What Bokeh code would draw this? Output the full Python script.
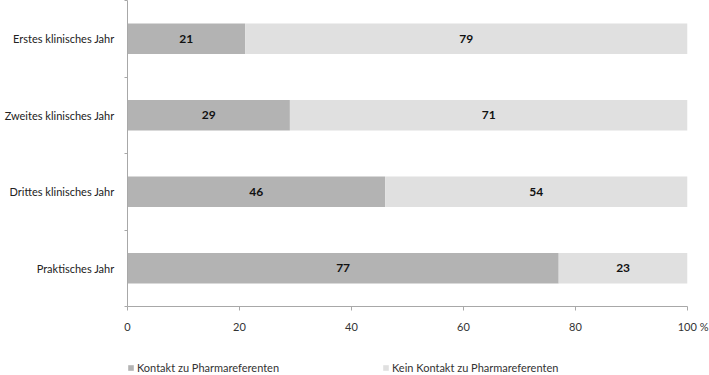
from bokeh.plotting import figure
from bokeh.layouts import column
from bokeh.models import ColumnDataSource, LabelSet, Legend, LegendItem, FixedTicker
from bokeh.core.properties import value
from bokeh.embed import file_html
from bokeh.resources import INLINE

categories = ["Erstes klinisches Jahr", "Zweites klinisches Jahr", "Drittes klinisches Jahr", "Praktisches Jahr"]
kontakt = [21, 29, 46, 77]
kein_kontakt = [79, 71, 54, 23]
series_names = ["Kontakt zu Pharmareferenten", "Kein Kontakt zu Pharmareferenten"]
x_ticks = [0, 20, 40, 60, 80, 100]
x_unit = "%"

FONT = "Lato"
C_K = "#b3b3b3"
C_NK = "#e0e0e0"
n = len(categories)
ypos = [n - i - 0.5 for i in range(n)]

src = ColumnDataSource(dict(
    cat=categories, y=ypos,
    zero=[0] * n,
    k_right=kontakt,
    nk_right=[a + b for a, b in zip(kontakt, kein_kontakt)],
    k_mid=[a / 2 for a in kontakt],
    nk_mid=[a + b / 2 for a, b in zip(kontakt, kein_kontakt)],
    k_txt=[str(v) for v in kontakt],
    nk_txt=[str(v) for v in kein_kontakt],
))

p = figure(width=709, height=335, x_range=(0, 100), y_range=(0, n),
           min_border_left=127, min_border_right=22, min_border_top=0, min_border_bottom=29,
           output_backend="svg", toolbar_location=None)
p.outline_line_color = None
p.xgrid.visible = False
p.ygrid.visible = False

p.hbar(y="y", left="zero", right="k_right", height=0.4, source=src,
       fill_color=C_K, line_color=None)
p.hbar(y="y", left="k_right", right="nk_right", height=0.4, source=src,
       fill_color=C_NK, line_color=None)

for xcol, tcol in (("k_mid", "k_txt"), ("nk_mid", "nk_txt")):
    p.add_layout(LabelSet(x=xcol, y="y", text=tcol, source=src,
                          text_align="center", text_baseline="middle",
                          text_font=value(FONT), text_font_style="bold",
                          text_font_size="12px", text_color="#111111"))

axis_color = "#a8a8a8"
xa = p.xaxis[0]
xa.ticker = FixedTicker(ticks=x_ticks)
xa.major_label_overrides = {100: "\u00a0\u00a0\u00a0\u00a0100 " + x_unit}
xa.axis_line_color = axis_color
xa.major_tick_line_color = axis_color
xa.major_tick_out = 4
xa.major_tick_in = 0
xa.minor_tick_line_color = None
xa.major_label_standoff = 9
xa.major_label_text_font = FONT
xa.major_label_text_font_size = "11px"
xa.major_label_text_color = "#333333"
xa.axis_label_standoff = 0

ya = p.yaxis[0]
ya.ticker = FixedTicker(ticks=ypos, minor_ticks=list(range(n + 1)))
ya.major_label_overrides = {y: c for y, c in zip(ypos, categories)}
ya.axis_line_color = axis_color
ya.major_tick_line_color = None
ya.major_tick_out = 0
ya.major_tick_in = 0
ya.minor_tick_line_color = axis_color
ya.minor_tick_out = 3
ya.minor_tick_in = 0
ya.major_label_standoff = 10
ya.major_label_text_font = FONT
ya.major_label_text_font_size = "11px"
ya.major_label_text_color = "#222222"
ya.axis_label_standoff = 0

# Legend strip below the chart (series swatches drawn off-view, used only by the legend)
lp = figure(width=709, height=40, x_range=(0, 100), y_range=(100, 101),
            min_border_left=0, min_border_right=0, min_border_top=0, min_border_bottom=0,
            x_axis_location=None, y_axis_location=None,
            output_backend="svg", toolbar_location=None)
lp.outline_line_color = None
lp.xgrid.visible = False
lp.ygrid.visible = False
lr1 = lp.hbar(y="y", left="zero", right="k_right", height=0.4, source=src,
              fill_color=C_K, line_color=None)
lr2 = lp.hbar(y="y", left="k_right", right="nk_right", height=0.4, source=src,
              fill_color=C_NK, line_color=None)

legend = Legend(items=[LegendItem(label=series_names[0], renderers=[lr1]),
                       LegendItem(label=series_names[1], renderers=[lr2])],
                orientation="horizontal", location=(0, 1),
                glyph_width=7, glyph_height=7, label_standoff=3, spacing=0,
                label_width=245, padding=0, margin=0,
                border_line_color=None, background_fill_alpha=0,
                label_text_font=FONT, label_text_font_size="11px",
                label_text_color="#333333", label_height=12)
lp.add_layout(legend)

layout = column(p, lp, spacing=0)
open("out.html", "w").write(file_html(layout, INLINE))
